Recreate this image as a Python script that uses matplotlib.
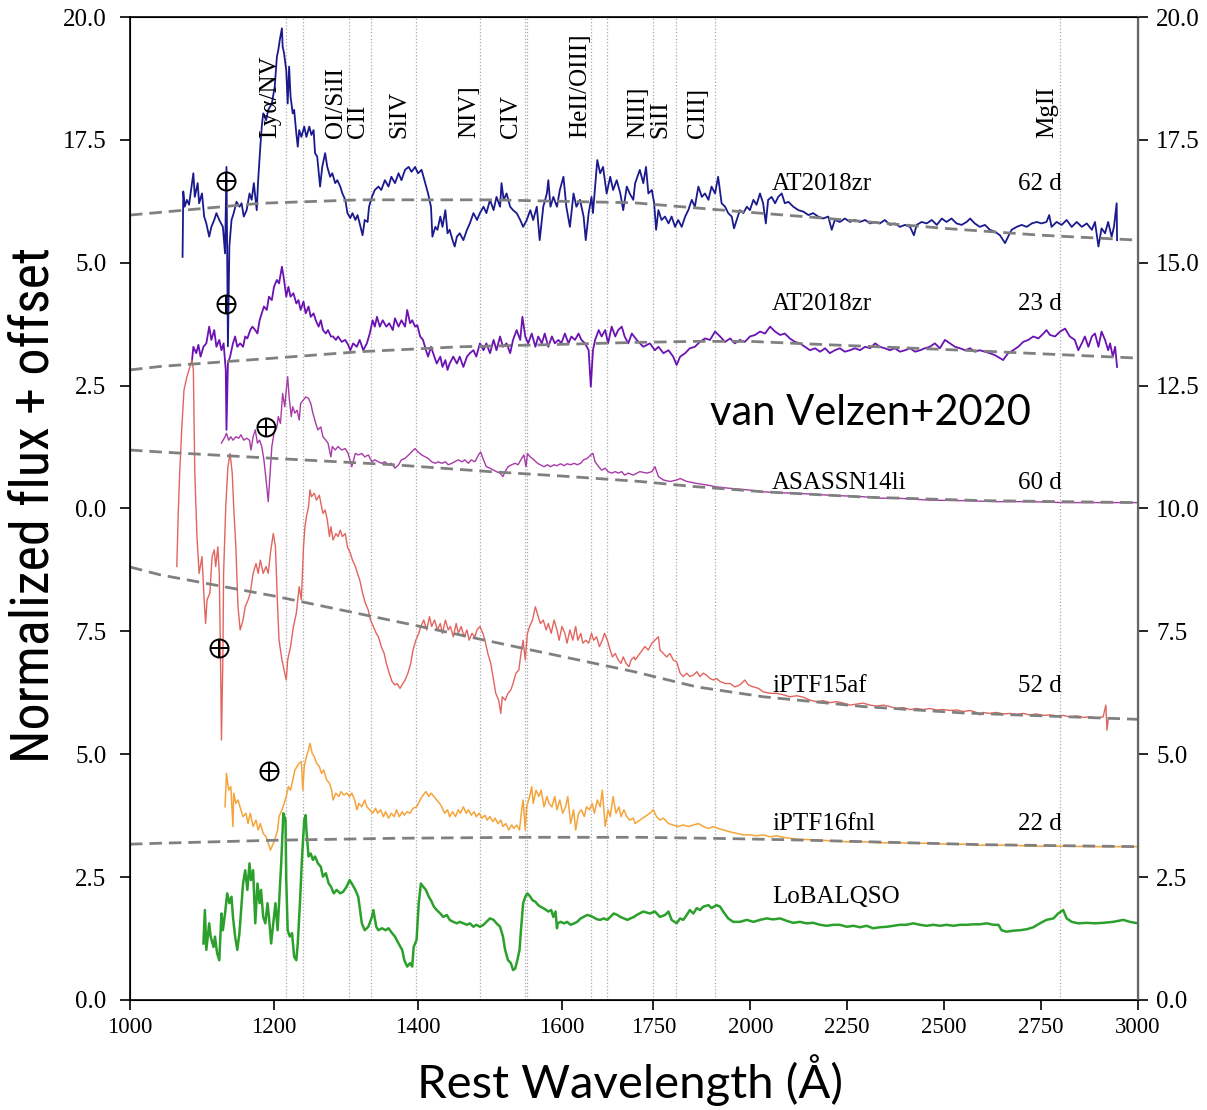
import numpy as np
import matplotlib
matplotlib.use('Agg')
import matplotlib.pyplot as plt
from matplotlib import font_manager

# ---------------- data (rest wavelength in A, normalized flux + offset) -------------
at18_62_wave = [1073,1074,1076,1079,1082,1088,1090,1094,1096,1100,
    1103,1106,1110,1113,1117,1120,1124,1129,1132,1134,
    1136,1138,1141,1144,1148,1152,1155,1158,1162,1166,
    1169,1172,1176,1178,1181,1183,1185,1189,1192,1197,
    1201,1204,1206,1208,1211,1212,1214,1217,1219,1221,
    1223,1226,1228,1231,1233,1235,1238,1242,1245,1249,
    1252,1255,1257,1260,1264,1267,1271,1274,1278,1281,
    1285,1288,1292,1295,1299,1302,1306,1309,1313,1316,
    1319,1323,1326,1330,1332,1336,1340,1345,1349,1354,
    1359,1363,1368,1373,1377,1382,1387,1391,1396,1400,
    1405,1410,1414,1418,1420,1424,1427,1431,1434,1438,
    1441,1444,1448,1451,1454,1458,1463,1468,1472,1477,
    1482,1486,1491,1495,1500,1505,1509,1514,1516,1519,
    1523,1528,1532,1537,1542,1546,1551,1556,1560,1565,
    1569,1574,1579,1581,1584,1588,1593,1597,1602,1606,
    1611,1616,1620,1625,1630,1633,1637,1641,1643,1649,
    1653,1657,1662,1667,1671,1676,1681,1685,1690,1694,
    1699,1703,1715,1724,1731,1737,1746,1752,1757,1763,
    1771,1780,1789,1797,1806,1814,1823,1832,1840,1849,
    1857,1866,1875,1883,1892,1900,1909,1917,1926,1935,
    1943,1952,1958,1965,1973,1982,1991,1999,2008,2016,
    2025,2033,2040,2046,2055,2064,2072,2081,2089,2098,
    2111,2124,2137,2150,2162,2175,2188,2201,2210,2218,
    2231,2244,2257,2270,2283,2296,2309,2322,2334,2347,
    2360,2373,2386,2399,2412,2422,2429,2442,2455,2468,
    2481,2494,2506,2519,2532,2545,2558,2567,2579,2592,
    2605,2618,2631,2644,2657,2665,2674,2687,2700,2713,
    2726,2739,2751,2764,2771,2777,2790,2803,2816,2829,
    2842,2855,2868,2881,2889,2898,2906,2915,2923,2932,
    2938,2945,2946]
at18_62_flux = [15.12,16.45,16.14,16.28,16.18,16.82,16.34,16.62,16.21,16.41,
    15.94,15.80,15.53,15.73,15.87,16.01,15.87,15.73,15.19,16.95,
    13.30,15.33,15.87,16.01,16.24,16.14,16.21,15.94,16.07,16.41,
    16.28,16.62,16.07,16.68,17.36,17.77,18.04,17.90,18.11,18.24,
    18.58,19.19,19.33,19.53,19.77,19.40,19.26,18.92,18.24,18.99,
    18.38,18.04,18.11,17.63,17.36,17.70,17.56,17.77,17.56,17.77,
    17.60,17.70,17.23,17.16,16.55,16.95,17.23,16.95,16.75,16.82,
    16.62,16.68,16.55,16.41,16.28,16.01,15.91,16.01,15.87,15.97,
    15.80,15.56,15.87,15.83,16.14,16.34,16.48,16.55,16.48,16.68,
    16.55,16.75,16.62,16.82,16.68,16.89,16.95,16.85,16.95,16.82,
    16.89,16.62,16.41,16.14,15.53,15.73,15.67,15.94,15.73,16.07,
    15.60,15.67,15.46,15.33,15.53,15.60,15.46,15.67,15.80,16.01,
    15.87,16.01,16.14,16.01,16.28,16.07,16.34,16.14,16.62,16.28,
    16.41,16.14,16.07,16.01,15.87,15.73,15.87,16.07,15.87,16.14,
    15.46,16.14,16.41,16.68,16.14,16.34,16.14,16.48,16.75,16.14,
    15.73,16.41,16.14,16.28,15.94,15.46,16.01,16.34,16.01,17.09,
    16.82,16.95,16.41,16.75,16.48,16.68,16.41,16.07,16.55,16.41,
    16.28,16.62,16.89,16.62,16.95,16.41,16.48,16.21,15.67,16.07,
    15.87,15.94,15.80,15.94,15.73,15.87,15.73,15.94,16.07,16.28,
    16.14,16.55,16.34,16.41,16.28,16.55,16.41,16.75,16.21,16.14,
    16.01,15.94,15.70,15.87,16.07,16.01,16.14,16.07,16.28,16.18,
    16.41,16.21,15.80,16.28,16.34,16.21,16.34,16.41,16.21,16.24,
    16.14,16.07,16.04,15.97,16.01,15.94,15.90,15.94,15.67,15.87,
    15.83,15.90,15.83,15.87,15.83,15.87,15.80,15.83,15.80,15.87,
    15.77,15.80,15.73,15.77,15.73,15.56,15.77,15.83,15.80,15.87,
    15.77,15.90,15.83,15.90,15.80,15.77,15.83,15.90,15.80,15.73,
    15.77,15.67,15.63,15.56,15.40,15.53,15.67,15.73,15.77,15.73,
    15.80,15.83,15.80,15.83,15.97,15.73,15.83,15.77,15.87,15.73,
    15.83,15.73,15.80,15.67,15.83,15.33,15.70,15.60,15.83,15.53,
    15.73,16.21,15.46]

at18_23_wave = [1086,1088,1092,1095,1098,1102,1106,1110,1113,1117,
    1120,1124,1127,1130,1133,1134,1136,1139,1143,1146,
    1149,1153,1157,1160,1163,1167,1170,1174,1177,1180,
    1183,1186,1190,1193,1197,1200,1204,1207,1211,1214,
    1217,1220,1223,1227,1231,1234,1237,1241,1244,1248,
    1251,1255,1258,1262,1265,1268,1272,1275,1279,1282,
    1286,1289,1294,1299,1303,1306,1310,1315,1319,1324,
    1329,1333,1337,1340,1343,1347,1351,1356,1360,1365,
    1368,1373,1377,1382,1385,1389,1392,1396,1399,1403,
    1407,1411,1414,1418,1421,1426,1431,1434,1438,1441,
    1444,1449,1454,1458,1463,1468,1472,1477,1481,1486,
    1491,1495,1500,1505,1509,1514,1518,1523,1528,1532,
    1537,1542,1545,1549,1553,1558,1563,1567,1572,1576,
    1581,1586,1590,1595,1599,1604,1609,1613,1618,1623,
    1627,1632,1637,1640,1643,1646,1651,1655,1660,1664,
    1669,1674,1678,1683,1687,1692,1697,
    1707,1724,1741,1754,1763,1776,1789,1801,1810,1819,
    1832,1844,1857,1870,1883,1896,1909,1922,1935,1948,
    1960,1973,1986,1999,2012,2025,2038,2051,2064,2077,
    2089,2102,2115,2128,2141,2154,2167,2180,2193,2205,
    2218,2231,2244,2257,2270,2283,2296,2309,2322,2334,
    2347,2360,2373,2386,2399,2412,2425,2438,2450,2463,
    2476,2489,2502,2515,2528,2541,2554,2567,2579,2592,
    2605,2618,2631,2644,2652,2665,2678,2691,2704,2717,
    2730,2743,2756,2764,2773,2786,2799,2812,2824,2837,
    2846,2855,2863,2872,2881,2889,2898,2906,2915,2923,
    2928,2935,2941,2946]
at18_23_flux = [12.99,13.29,13.16,13.33,13.09,13.29,13.36,13.70,13.43,13.63,
    13.29,13.43,13.22,13.36,12.82,11.60,12.95,13.09,13.36,13.50,
    13.29,13.36,13.29,13.50,13.46,13.63,13.70,13.63,13.56,13.83,
    13.97,14.11,14.04,14.31,14.24,14.51,14.65,14.58,14.92,14.65,
    14.31,14.51,14.31,14.38,14.17,14.24,14.04,14.21,13.97,14.11,
    13.90,13.97,13.83,13.70,13.83,13.63,13.56,13.63,13.50,13.50,
    13.43,13.50,13.39,13.43,13.33,13.22,13.36,13.29,13.43,13.22,
    13.36,13.56,13.83,13.70,13.90,13.70,13.83,13.70,13.77,13.63,
    13.87,13.70,13.83,13.70,14.04,13.77,13.83,13.70,13.73,13.50,
    13.43,13.22,13.09,13.29,13.16,12.95,13.09,12.88,13.02,12.82,
    12.95,13.09,12.95,13.09,12.88,13.09,13.16,13.22,13.09,13.36,
    13.22,13.36,13.16,13.43,13.22,13.50,13.29,13.36,13.16,13.43,
    13.63,13.43,13.90,13.50,13.36,13.56,13.29,13.50,13.36,13.56,
    13.29,13.50,13.36,13.43,13.36,13.56,13.36,13.50,13.43,13.56,
    13.43,13.36,13.22,12.48,13.22,13.43,13.63,13.50,13.63,13.36,
    13.70,13.50,13.63,13.70,13.50,13.36,13.56,
    13.43,13.29,13.36,13.22,13.29,13.16,13.22,13.09,12.92,13.09,
    13.16,13.26,13.29,13.39,13.46,13.43,13.60,13.50,13.39,13.46,
    13.36,13.43,13.39,13.50,13.53,13.60,13.56,13.70,13.60,13.53,
    13.56,13.46,13.39,13.36,13.29,13.22,13.26,13.19,13.26,13.16,
    13.22,13.26,13.19,13.22,13.26,13.22,13.29,13.26,13.36,13.29,
    13.26,13.22,13.26,13.19,13.22,13.26,13.19,13.22,13.26,13.29,
    13.36,13.26,13.43,13.36,13.29,13.26,13.22,13.26,13.19,13.22,
    13.19,13.16,13.12,13.06,13.02,13.16,13.22,13.29,13.39,13.43,
    13.50,13.46,13.56,13.63,13.53,13.50,13.60,13.66,13.50,13.43,
    13.22,13.36,13.50,13.29,13.50,13.56,13.29,13.60,13.43,13.22,
    13.36,13.09,13.29,12.88]

asassn_wave = [1127,1132,1134,1137,1140,1143,1147,1151,1154,1158,
    1162,1166,1168,1171,1174,1177,1180,1183,1186,1189,
    1192,1194,1197,1200,1204,1206,1209,1212,1215,1217,
    1219,1221,1224,1226,1229,1232,1235,1237,1241,1244,
    1248,1251,1254,1258,1261,1265,1268,1272,1275,1279,
    1281,1285,1289,1294,1299,1303,1308,1313,1317,1322,
    1326,1331,1336,1340,1345,1349,1354,1359,1363,1368,
    1373,1377,1382,1387,1391,1396,1400,1405,1410,1414,
    1419,1424,1428,1433,1438,1442,1447,1451,1456,1461,
    1465,1470,1474,1479,1484,1487,1491,1495,1500,1505,
    1509,1514,1518,1521,1525,1530,1535,1539,1544,1547,
    1550,1552,1556,1561,1566,1570,1575,1580,1584,1589,
    1593,1598,1603,1607,1612,1617,1621,1626,1630,1635,
    1640,1643,1646,1651,1655,1660,1664,1669,1674,1678,
    1683,1687,1692,1699,
    1715,1733,1746,1754,1763,1776,1793,1810,1819,1836,
    1862,1887,1913,1948,1991,2033,2077,2120,2205,2291,
    2334,2378,2463,2549,2635,2721,2807,2893,3000]
asassn_flux = [11.33,11.46,11.53,11.39,11.46,11.39,11.46,11.43,11.50,11.39,
    11.43,11.39,11.19,11.46,11.60,11.33,11.39,11.26,10.99,10.58,
    10.14,10.58,11.26,11.53,11.66,11.87,11.73,12.34,12.07,12.41,
    12.68,12.27,11.87,12.07,11.94,12.00,11.80,12.14,12.21,12.27,
    12.24,12.14,11.94,11.73,11.60,11.66,11.46,11.39,11.33,11.05,
    11.26,11.19,11.26,11.19,11.22,11.12,10.85,11.12,11.09,11.12,
    11.05,11.09,10.95,10.99,10.95,10.92,10.95,10.89,10.92,10.82,
    10.89,10.99,11.02,11.09,11.15,11.22,11.15,11.09,11.05,11.02,
    10.95,10.92,10.95,10.92,10.95,10.89,10.92,10.95,10.99,10.95,
    10.99,10.92,10.99,10.95,11.09,11.15,10.99,10.85,10.82,10.78,
    10.75,10.72,10.65,10.75,10.85,10.89,10.92,10.89,11.02,11.09,
    10.85,11.12,11.05,10.99,10.92,10.89,10.85,10.89,10.85,10.89,
    10.87,10.91,10.87,10.91,10.89,10.92,10.89,10.92,10.99,11.02,
    11.09,11.12,10.95,10.85,10.78,10.82,10.75,10.72,10.75,10.72,
    10.75,10.68,10.72,10.68,
    10.75,10.72,10.75,10.85,10.65,10.58,10.55,10.58,10.61,10.55,
    10.51,10.48,10.44,10.41,10.38,10.34,10.32,10.31,10.27,10.24,
    10.21,10.21,10.17,10.16,10.14,10.14,10.12,10.12,10.12]

ptf15af_wave = [1065,1067,1069,1072,1075,1079,1082,1086,1088,1090,
    1093,1096,1100,1103,1105,1107,1111,1114,1117,1119,
    1122,1124,1126,1127,1129,1130,1133,1136,1139,1142,
    1144,1147,1150,1153,1157,1160,1164,1167,1171,1175,
    1178,1181,1185,1189,1192,1195,1199,1202,1205,1207,
    1211,1215,1217,1219,1223,1227,1231,1235,1238,1241,
    1243,1245,1248,1250,1252,1256,1259,1263,1266,1268,
    1271,1274,1277,1279,1282,1286,1289,1292,1295,1299,
    1302,1306,1309,1313,1316,1319,1323,1327,1331,1334,
    1338,1342,1345,1349,1353,1356,1360,1364,1368,1371,
    1375,1379,1382,1386,1390,1393,1397,1401,1404,1408,
    1412,1416,1419,1423,1427,1431,1434,1438,1442,1445,
    1449,1453,1456,1460,1464,1468,1471,1475,1479,1482,
    1486,1490,1493,1497,1501,1505,1508,1512,1515,1517,
    1521,1525,1529,1532,1536,1540,1543,1546,1549,1552,
    1555,1559,1563,1567,1570,1574,1578,1581,1585,1589,
    1593,1596,1600,1604,1607,1611,1615,1619,1622,1626,
    1629,1633,1637,1641,1644,1648,1652,1656,1659,1663,
    1667,1670,1674,1678,1682,1685,1689,1693,1696,1700,
    1703,1715,1728,1737,1746,1754,1763,1767,1776,1784,
    1793,1801,1810,1819,1827,1836,1844,1853,1862,1870,
    1879,1887,1896,1905,1913,1922,1935,1948,1960,1973,
    1986,1995,2008,2021,2033,2051,2068,2085,2102,2120,
    2137,2154,2171,2188,2205,2223,2240,2257,2274,2291,
    2309,2326,2343,2360,2377,2394,2412,2429,2446,2463,
    2481,2498,2515,2532,2549,2567,2584,2592,2601,2618,
    2635,2652,2670,2687,2704,2721,2738,2756,2773,2790,
    2807,2824,2842,2859,2876,2893,2910,2917,2920,2923]
ptf15af_flux = [8.82,9.90,10.72,11.66,12.41,12.68,12.82,13.02,12.82,10.72,
    9.43,8.68,9.02,8.14,7.66,8.14,8.28,9.02,9.16,8.82,
    9.22,8.68,6.65,5.29,6.98,8.68,10.04,10.85,11.12,10.72,
    10.04,9.22,8.00,7.53,7.73,8.00,8.14,8.28,8.68,8.88,
    8.68,8.95,8.68,8.82,8.68,9.09,9.49,9.22,8.00,7.32,
    6.92,6.65,6.51,6.92,7.19,7.60,7.87,8.41,8.14,9.22,
    9.63,9.83,10.04,10.38,10.24,10.31,10.17,10.27,10.04,9.90,
    9.97,9.77,9.43,9.63,9.36,9.49,9.43,9.56,9.43,9.49,
    9.22,9.09,8.95,8.82,8.68,8.55,8.28,8.07,7.93,7.73,
    7.60,7.46,7.39,7.19,7.05,6.85,6.65,6.48,6.41,6.44,
    6.34,6.44,6.51,6.65,6.85,7.12,7.32,7.46,7.60,7.73,
    7.53,7.80,7.60,7.73,7.53,7.66,7.46,7.73,7.53,7.60,
    7.39,7.66,7.46,7.60,7.39,7.53,7.32,7.46,7.39,7.53,
    7.60,7.46,7.32,7.05,6.85,6.51,6.24,6.10,5.83,6.17,
    6.10,6.24,6.31,6.44,6.65,6.71,7.05,7.32,6.92,7.46,
    7.60,7.73,8.00,7.80,7.66,7.73,7.53,7.66,7.46,7.73,
    7.53,7.32,7.60,7.46,7.26,7.53,7.32,7.60,7.32,7.46,
    7.26,7.32,7.26,7.46,7.32,7.39,7.19,7.32,7.46,7.32,
    7.12,6.98,7.05,6.92,6.85,6.98,6.85,6.78,6.92,6.98,
    6.92,7.05,7.19,7.12,7.26,7.32,7.39,7.12,7.05,6.98,
    7.05,6.92,6.88,6.65,6.58,6.65,6.58,6.61,6.68,6.58,
    6.65,6.61,6.54,6.51,6.54,6.48,6.44,6.44,6.37,6.41,
    6.51,6.41,6.37,6.34,6.27,6.24,6.24,6.21,6.17,6.19,
    6.16,6.10,6.07,6.09,6.05,6.07,6.04,6.00,6.02,6.04,
    6.00,5.98,6.00,5.97,5.93,5.95,5.91,5.93,5.91,5.93,
    5.90,5.91,5.89,5.90,5.87,5.89,5.85,5.80,5.85,5.83,
    5.85,5.82,5.83,5.81,5.83,5.80,5.82,5.79,5.80,5.78,
    5.79,5.76,5.78,5.75,5.76,5.74,5.76,6.00,5.49,5.70]

ptf16fnl_wave = [1132,1134,1137,1140,1143,1144,1147,1150,1154,1157,
    1161,1164,1167,1171,1175,1178,1181,1185,1189,1192,
    1195,1198,1201,1205,1207,1211,1214,1217,1220,1223,
    1226,1229,1232,1235,1238,1240,1242,1245,1248,1250,
    1253,1256,1259,1263,1266,1269,1273,1277,1280,1282,
    1286,1290,1293,1297,1301,1305,1308,1312,1315,1318,
    1322,1326,1329,1333,1337,1341,1344,1348,1352,1355,
    1359,1363,1367,1370,1374,1378,1381,1385,1389,1393,
    1398,1403,1407,1411,1415,1418,1422,1426,1430,1433,
    1437,1441,1444,1448,1452,1456,1459,1463,1467,1470,
    1474,1478,1481,1485,1489,1493,1496,1500,1504,1507,
    1511,1515,1518,1522,1526,1530,1533,1537,1541,1544,
    1546,1549,1551,1555,1558,1560,1564,1568,1571,1575,
    1579,1582,1586,1590,1593,1597,1601,1605,1608,1612,
    1616,1619,1623,1627,1631,1634,1638,1642,1645,1649,
    1653,1656,1660,1664,1667,1671,1675,1679,1682,1686,
    1690,1694,1699,
    1703,1715,1728,1741,1750,1758,1767,1776,1789,1801,
    1814,1827,1840,1853,1866,1879,1892,1905,1917,1930,
    1948,1965,1982,1999,2016,2033,2051,2068,2085,2102,
    2120,2162,2205,2249,2291,2334,2377,2420,2463,2506,
    2549,2592,2635,2678,2721,2764,2807,2893,3000]
ptf16fnl_flux = [3.93,4.61,4.27,4.34,3.53,4.21,4.00,4.07,3.87,3.73,
    3.80,3.59,3.80,3.53,3.66,3.46,3.59,3.39,3.32,3.19,
    3.05,3.15,3.26,3.46,3.73,3.87,4.00,4.14,4.34,4.27,
    4.48,4.68,4.75,4.82,4.85,4.27,4.75,4.95,5.09,5.22,
    5.02,4.95,4.82,4.75,4.61,4.68,4.48,4.41,4.27,4.07,
    4.21,4.14,4.24,4.17,4.21,4.14,4.21,4.07,3.87,4.00,
    3.93,4.07,3.93,3.87,3.80,3.90,3.80,3.87,3.73,3.83,
    3.70,3.80,3.73,3.87,3.73,3.83,3.76,3.83,3.80,3.90,
    3.93,4.07,4.17,4.24,4.14,4.21,4.14,4.07,4.00,3.93,
    3.80,3.87,3.73,3.83,3.73,3.87,3.80,3.93,3.80,3.87,
    3.76,3.83,3.73,3.80,3.70,3.76,3.66,3.73,3.63,3.70,
    3.59,3.66,3.53,3.59,3.46,3.56,3.49,3.56,3.46,3.87,
    4.07,3.46,3.93,4.14,4.34,4.00,4.27,4.14,4.27,3.93,
    4.14,4.00,3.93,4.14,3.87,4.07,3.80,3.93,4.14,3.59,
    3.87,3.46,3.80,3.87,3.73,3.93,3.87,4.00,3.80,4.07,
    3.93,4.27,3.53,3.87,3.73,4.14,3.80,3.93,3.73,3.87,
    3.73,3.66,3.70,
    3.59,3.66,3.73,3.80,3.87,3.73,3.66,3.70,3.59,3.56,
    3.53,3.56,3.53,3.56,3.59,3.53,3.49,3.53,3.49,3.46,
    3.42,3.39,3.36,3.36,3.34,3.36,3.32,3.34,3.31,3.29,
    3.27,3.26,3.24,3.22,3.22,3.20,3.20,3.19,3.19,3.17,
    3.17,3.15,3.15,3.15,3.13,3.13,3.13,3.12,3.12]

qso_wave = [1102,1104,1106,1110,1112,1116,1118,1121,1124,1127,
    1129,1132,1135,1138,1141,1143,1146,1149,1152,1155,
    1157,1160,1163,1166,1168,1171,1174,1177,1180,1182,
    1185,1188,1191,1193,1196,1199,1202,1205,1207,1210,
    1213,1216,1217,1219,1222,1225,1228,1231,1233,1236,
    1239,1242,1244,1245,1248,1251,1254,1257,1261,1265,
    1268,1272,1276,1279,1283,1287,1292,1296,1301,1305,
    1308,1313,1317,1322,1326,1331,1336,1338,1342,1345,
    1350,1355,1359,1364,1368,1373,1378,1381,1385,1389,
    1392,1394,1398,1401,1404,1407,1411,1415,1418,1422,
    1426,1431,1435,1440,1444,1449,1454,1458,1463,1468,
    1472,1477,1481,1486,1491,1495,1500,1505,1509,1514,
    1518,1521,1525,1529,1532,1535,1538,1541,1543,1546,
    1549,1552,1556,1559,1563,1567,1570,1574,1578,1581,
    1585,1588,1591,1593,1594,1598,1603,1607,1612,1617,
    1621,1626,1630,1635,1640,1644,1649,1653,1658,1663,
    1667,1672,1677,1681,1686,1691,1695,1700,
    1707,1724,1741,1754,1767,1780,1789,1797,1810,1819,
    1827,1836,1844,1853,1862,1870,1879,1892,1900,1913,
    1922,1930,1943,1956,1973,1991,2008,2025,2042,2059,
    2077,2094,2111,2128,2145,2162,2180,2197,2214,2231,
    2249,2266,2283,2300,2317,2334,2352,2369,2386,2403,
    2420,2438,2455,2472,2489,2506,2524,2541,2558,2575,
    2592,2610,2627,2640,2648,2661,2678,2696,2713,2730,
    2747,2764,2782,2794,2807,2816,2829,2846,2868,2889,
    2910,2936,2962,2979,3000]
qso_flux = [1.15,1.83,1.02,1.56,1.29,1.08,1.29,0.95,0.81,1.76,
    1.42,1.76,2.17,1.97,2.10,1.69,1.29,1.02,1.36,1.97,
    2.37,2.64,2.24,2.78,2.44,2.64,1.56,2.37,1.97,2.24,
    1.69,1.56,1.97,1.69,1.15,1.56,1.97,1.42,1.97,2.78,
    3.80,3.66,2.44,1.42,1.29,1.36,0.88,0.81,1.15,1.97,
    2.92,3.66,3.76,3.46,2.92,2.98,2.85,2.92,2.78,2.71,
    2.51,2.58,2.37,2.31,2.17,2.24,2.17,2.20,2.31,2.44,
    2.37,2.24,2.10,1.56,1.42,1.49,1.69,1.83,1.49,1.42,
    1.46,1.42,1.46,1.36,1.29,1.15,1.02,0.81,0.68,0.75,
    0.68,1.08,1.22,1.97,2.37,2.31,2.24,2.10,2.03,1.90,
    1.83,1.76,1.69,1.73,1.63,1.59,1.56,1.59,1.56,1.53,
    1.56,1.49,1.53,1.49,1.53,1.59,1.66,1.63,1.56,1.49,
    1.29,1.02,0.81,0.75,0.61,0.64,0.81,1.02,1.42,1.97,
    2.10,2.17,2.10,2.03,2.00,1.93,1.90,1.87,1.83,1.80,
    1.83,1.69,1.80,1.46,1.56,1.59,1.56,1.59,1.53,1.56,
    1.59,1.66,1.69,1.73,1.71,1.68,1.64,1.63,1.66,1.63,
    1.69,1.76,1.73,1.69,1.66,1.63,1.66,1.69,
    1.73,1.80,1.76,1.80,1.69,1.73,1.80,1.63,1.56,1.66,
    1.63,1.73,1.83,1.76,1.87,1.83,1.90,1.93,1.87,1.93,
    1.90,1.80,1.66,1.59,1.59,1.63,1.59,1.63,1.66,1.64,
    1.66,1.61,1.57,1.59,1.56,1.57,1.53,1.51,1.53,1.53,
    1.49,1.51,1.48,1.51,1.46,1.48,1.49,1.51,1.53,1.53,
    1.56,1.53,1.51,1.53,1.51,1.53,1.51,1.53,1.53,1.54,
    1.54,1.56,1.53,1.53,1.42,1.39,1.41,1.42,1.44,1.48,
    1.56,1.63,1.66,1.76,1.83,1.66,1.59,1.56,1.57,1.56,
    1.57,1.59,1.63,1.59,1.56]

# continuum (dashed) curves
cont1_wave = [1000,1181,1319,1500,1700,1960,2200,2500,2750,3000]
cont1_flux = [15.97,16.21,16.28,16.28,16.22,16.05,15.90,15.70,15.56,15.46]
cont2_wave = [1000,1042,1200,1319,1458,1600,1707,1862,2000,2205,2549,2800,3000]
cont2_flux = [12.82,12.89,13.06,13.19,13.29,13.34,13.38,13.40,13.40,13.33,13.22,13.13,13.06]
cont3_wave = [1000,1042,1200,1366,1500,1600,1715,1850,2033,2300,2600,3000]
cont3_flux = [11.19,11.15,11.02,10.89,10.75,10.66,10.55,10.45,10.34,10.23,10.16,10.12]
cont4_wave = [1000,1042,1200,1400,1551,1700,1862,2033,2291,2549,3000]
cont4_flux = [8.81,8.65,8.22,7.61,7.14,6.68,6.37,6.17,5.97,5.84,5.71]
cont5_wave = [1000,1042,1200,1366,1550,1715,1900,2100,2300,2600,3000]
cont5_flux = [3.17,3.19,3.25,3.29,3.31,3.31,3.29,3.26,3.22,3.16,3.12]

# emission lines
line_wave = [1216,1240,1304,1335,1397,1486,1548,1551,1640,1663,1750,1808,1909,2798]
line_names = ['Ly\u03b1/NV','OI/SiII','CII','SiIV','NIV]','CIV','HeII/OIII]','NIII]','SiII','CIII]','MgII']
line_label_wave = [1195,1286,1316,1374,1471,1529,1625,1710,1767,1865,2765]

# telluric markers
tell_wave = [1133,1133,1189,1124,1193]
tell_flux = [16.66,14.16,11.66,7.16,4.65]

names = ['AT2018zr','AT2018zr','ASASSN14li','iPTF15af','iPTF16fnl','LoBALQSO']
phases = ['62 d','23 d','60 d','52 d','22 d','']
label_flux = [16.60,14.16,10.52,6.38,3.59,2.10]

xticks = [1000,1200,1400,1600,1750,2000,2250,2500,2750,3000]
yticks = [0,2.5,5,7.5,10,12.5,15,17.5,20]
left_ylabels = ['0.0','2.5','5.0','7.5','0.0','2.5','5.0','17.5','20.0']
right_ylabels = ['0.0','2.5','5.0','7.5','10.0','12.5','15.0','17.5','20.0']


def fwd(x):
	x = np.asarray(x, dtype=float)
	return np.where(x < 1700, (x - 1000.0) / 700.0, 1.0 + (x - 1700.0) / 1300.0)

def inv(u):
	u = np.asarray(u, dtype=float)
	return np.where(u < 1, 1000.0 + u * 700.0, 1700.0 + (u - 1.0) * 1300.0)

def pick_font(names_, default):
	for n in names_:
		try:
			font_manager.findfont(n, fallback_to_default=False)
			return n
		except ValueError:
			pass
	return default


serif = 'Liberation Serif'
sans = pick_font(['Lato', 'Open Sans'], 'DejaVu Sans')
narrow = pick_font(['Liberation Sans Narrow', 'Roboto Condensed'], sans)

fig = plt.figure(figsize=(12.07, 11.10), dpi=100)
ax = fig.add_axes([130/1207, 1 - 1000/1110, 1008/1207, 983/1110])
ax.set_xscale('function', functions=(fwd, inv))
ax.set_xlim(1000, 3000)
ax.set_ylim(0, 20)

for w in line_wave:
	ax.axvline(w, color='#aaaaaa', lw=0.9, ls=':', zorder=1)

spectra = [
	(at18_62_wave, at18_62_flux, '#1a1a8e', 1.3),
	(at18_23_wave, at18_23_flux, '#6a12b2', 1.3),
	(asassn_wave, asassn_flux, '#a83aa8', 1.0),
	(ptf15af_wave, ptf15af_flux, '#e2645e', 1.0),
	(ptf16fnl_wave, ptf16fnl_flux, '#f5a43c', 1.1),
	(qso_wave, qso_flux, '#2ca02c', 1.8),
]
for w, f, c, lw in spectra:
	ax.plot(w, f, color=c, lw=lw, zorder=2)

for w, f in [(cont1_wave, cont1_flux), (cont2_wave, cont2_flux), (cont3_wave, cont3_flux),
		(cont4_wave, cont4_flux), (cont5_wave, cont5_flux)]:
	ax.plot(w, f, color='#808080', lw=2, ls=(0, (4.5, 2.5)), zorder=3)

ax.plot(tell_wave, tell_flux, 'o', ms=13, mfc='none', mec='k', mew=1.4, zorder=4)
ax.plot(tell_wave, tell_flux, '+', ms=13, mec='k', mew=1.4, zorder=4)

for name, w in zip(line_names, line_label_wave):
	ax.text(w, 17.54, name, rotation=90, ha='center', va='bottom',
		fontsize=18, family=serif, zorder=5)

for name, ph, fl in zip(names, phases, label_flux):
	ax.text(2056, fl, name, ha='left', va='center', fontsize=18, family=serif, zorder=5)
	if ph:
		ax.text(2690, fl, ph, ha='left', va='center', fontsize=18, family=serif, zorder=5)

ax.text(1896, 11.94, 'van Velzen+2020', ha='left', va='center', fontsize=30, family=sans, zorder=5)

ax.set_xticks(xticks)
ax.set_xticklabels([str(t) for t in xticks], family=serif, fontsize=16.5)
ax.set_yticks(yticks)
ax.set_yticklabels(left_ylabels, family=serif, fontsize=18)
ax.minorticks_off()
ax.tick_params(direction='out', length=7, width=1.2)
ax.tick_params(axis='y', pad=10)
ax.tick_params(axis='x', pad=5)

ax2 = ax.twinx()
ax2.set_ylim(0, 20)
ax2.set_yticks(yticks)
ax2.set_yticklabels(right_ylabels, family=serif, fontsize=18)
ax2.tick_params(direction='out', length=7, width=1.2, pad=6)
ax2.spines['right'].set_color('#666666')
ax2.spines['right'].set_linewidth(1.6)
for s in ['left', 'top', 'bottom']:
	ax.spines[s].set_linewidth(1.2)

fig.text(630/1207, 1 - 1080/1110, 'Rest Wavelength (\u00c5)', ha='center', va='center',
	fontsize=34, family=sans)
fig.text(35/1207, 1 - 505/1110, 'Normalized flux + offset', ha='center', va='center',
	rotation=90, fontsize=39, family=narrow)

fig.savefig('out.png', dpi=100)
